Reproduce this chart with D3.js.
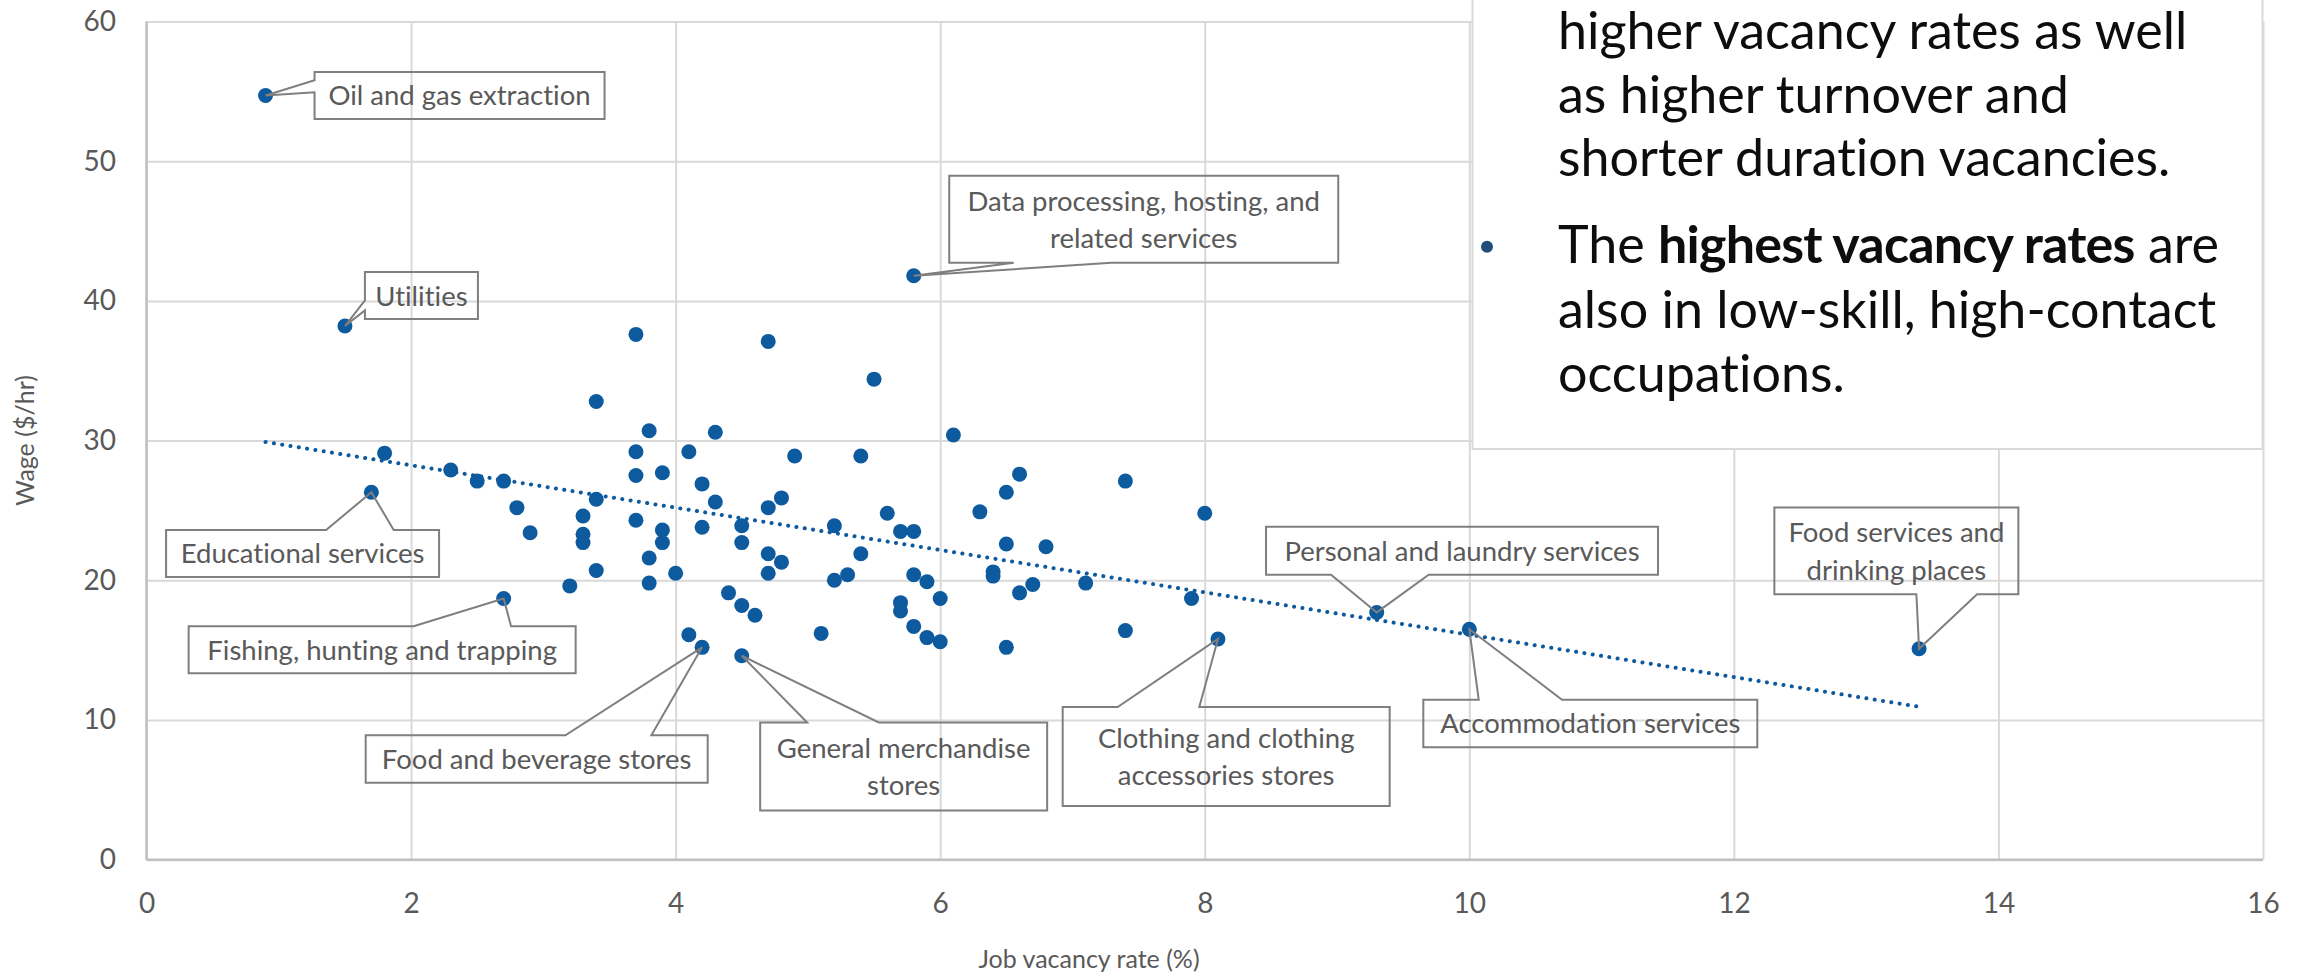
<!DOCTYPE html>
<html>
<head>
<meta charset="utf-8">
<script src="https://cdn.jsdelivr.net/npm/d3@7"></script>
<style>
  body { margin: 0; background: #fff; }
  svg { display: block; font-family: Lato, "Open Sans", sans-serif; font-variant-ligatures: none; }
</style>
</head>
<body>
<div id="chart"></div>
<script>
// Canvas size
const width = 2300;
const height = 974;

// Industries: job vacancy rate (%) and average wage ($/hr)
const vacancyRate = [
  0.9, 1.5, 5.8, 3.7, 4.7, 5.5, 3.4, 3.8, 4.3, 6.1,
  1.8, 1.7, 2.3, 2.5, 2.7, 2.8, 2.9, 3.3, 3.3, 3.3,
  3.4, 3.4, 3.2, 2.7, 3.7, 4.1, 4.9, 5.4, 3.7, 3.9,
  6.6, 4.2, 6.5, 4.3, 4.8, 4.7, 6.3, 5.6, 3.7, 4.2,
  4.5, 5.2, 5.7, 5.8, 3.9, 3.9, 4.5, 6.5, 6.8, 5.4,
  4.7, 4.8, 3.8, 4.0, 4.7, 3.8, 5.2, 5.3, 5.8, 5.9,
  6.4, 6.4, 6.7, 6.6, 6.0, 7.1, 4.4, 4.5, 4.6, 5.7,
  5.7, 5.8, 5.9, 6.0, 5.1, 6.5, 4.1, 4.2, 4.5, 7.4,
  8.0, 7.9, 7.4, 8.1, 9.3, 10.0, 13.4
];
const wage = [
  54.7, 38.2, 41.8, 37.6, 37.1, 34.4, 32.8, 30.7, 30.6, 30.4,
  29.1, 26.3, 27.9, 27.1, 27.1, 25.2, 23.4, 24.6, 23.3, 22.7,
  25.8, 20.7, 19.6, 18.7, 29.2, 29.2, 28.9, 28.9, 27.5, 27.7,
  27.6, 26.9, 26.3, 25.6, 25.9, 25.2, 24.9, 24.8, 24.3, 23.8,
  23.9, 23.9, 23.5, 23.5, 23.6, 22.7, 22.7, 22.6, 22.4, 21.9,
  21.9, 21.3, 21.6, 20.5, 20.5, 19.8, 20.0, 20.4, 20.4, 19.9,
  20.6, 20.3, 19.7, 19.1, 18.7, 19.8, 19.1, 18.2, 17.5, 18.4,
  17.8, 16.7, 15.9, 15.6, 16.2, 15.2, 16.1, 15.2, 14.6, 27.1,
  24.8, 18.7, 16.4, 15.8, 17.7, 16.5, 15.1
];

// Labelled industries (point they refer to)
const labelNames = [
  ["Oil and gas extraction"],
  ["Utilities"],
  ["Data processing, hosting, and", "related services"],
  ["Educational services"],
  ["Fishing, hunting and trapping"],
  ["Food and beverage stores"],
  ["General merchandise", "stores"],
  ["Clothing and clothing", "accessories stores"],
  ["Personal and laundry services"],
  ["Accommodation services"],
  ["Food services and", "drinking places"]
];
const labelRate = [0.9, 1.5, 5.8, 1.7, 2.7, 4.2, 4.5, 8.1, 9.3, 10.0, 13.4];
const labelWage = [54.7, 38.2, 41.8, 26.3, 18.7, 15.2, 14.6, 15.8, 17.7, 16.5, 15.1];

// Linear trend line end points
const trendRate = [0.9, 13.4];
const trendWage = [29.9, 10.95];

// Axis ticks
const xTicks = [0, 2, 4, 6, 8, 10, 12, 14, 16];
const yTicks = [0, 10, 20, 30, 40, 50, 60];

// Callout layout: box offset from point [dx, dy, w, h], wedge side and base offsets
const callouts = [
  [49, -23.6, 290, 47, "left", 8.3, 20.3],
  [20, -54, 113, 47, "left", 28.3, 38.3],
  [35.5, -100, 389, 87, "bottom", 64.5, 162],
  [-205.3, 37.7, 273, 47, "top", 160, 227.6],
  [-315, 27.7, 387, 47, "top", 225, 322.4],
  [-336.4, 88, 342, 47.5, "top", 199.7, 285.7],
  [18.4, 66.7, 287, 88, "top", 47, 118.6],
  [-155.3, 68, 327, 99, "top", 55, 136.6],
  [-110.7, -85.7, 392, 48, "bottom", 65, 162.7],
  [-46, 70.6, 334, 47.4, "top", 55.4, 138.7],
  [-144.7, -141.3, 244, 86.7, "bottom", 142, 202.7]
];

const blue = "#0d5a9e";
const grey = "#595959";

const svg = d3.select("#chart")
  .append("svg")
  .attr("width", width)
  .attr("height", height)
  .attr("viewBox", [0, 0, width, height]);

// Scales
const x = d3.scaleLinear().domain([0, 16]).range([146.5, 2263]);
const y = d3.scaleLinear().domain([0, 60]).range([859.7, 21.5]);
const plotW = x.range()[1] - x.range()[0];
const plotH = y.range()[0] - y.range()[1];

// Gridlines + tick labels through d3 axes
const xAxis = svg.append("g")
  .attr("transform", `translate(0,${y(0)})`)
  .call(d3.axisBottom(x).tickValues(xTicks).tickSize(-plotH).tickPadding(33));
const yAxis = svg.append("g")
  .attr("transform", `translate(${x(0)},0)`)
  .call(d3.axisLeft(y).tickValues(yTicks).tickSize(-plotW).tickPadding(30.5));

[xAxis, yAxis].forEach(g => {
  g.select(".domain").remove();
  g.selectAll(".tick line").attr("stroke", "#d9d9d9").attr("stroke-width", 2);
  g.selectAll(".tick text")
    .attr("fill", grey)
    .style("font-size", "28px")
    .style("font-family", "Lato, sans-serif");
});

// Axis lines
svg.append("line")
  .attr("x1", x(0)).attr("x2", x(16)).attr("y1", y(0)).attr("y2", y(0))
  .attr("stroke", "#bfbfbf").attr("stroke-width", 2.5);
svg.append("line")
  .attr("x1", x(0)).attr("x2", x(0)).attr("y1", y(0)).attr("y2", y(60))
  .attr("stroke", "#bfbfbf").attr("stroke-width", 2.5);

// Axis titles
svg.append("text")
  .attr("transform", `translate(34,${(y(0) + y(60)) / 2}) rotate(-90)`)
  .attr("text-anchor", "middle")
  .attr("fill", grey)
  .style("font-size", "25px")
  .text("Wage ($/hr)");
svg.append("text")
  .attr("x", 1089)
  .attr("y", 968)
  .attr("text-anchor", "middle")
  .attr("fill", grey)
  .style("font-size", "25px")
  .text("Job vacancy rate (%)");

// Slide text box overlapping the chart
const box = svg.append("g");
box.append("rect")
  .attr("x", 1472.5).attr("y", -20)
  .attr("width", 790).attr("height", 469)
  .attr("fill", "#fff")
  .attr("stroke", "#d9d9d9")
  .attr("stroke-width", 2);

const boxText = box.append("g")
  .attr("fill", "#0d0d0d")
  .style("font-size", "52px");
const plainLines = [
  ["higher vacancy rates as well", 49],
  ["as higher turnover and", 113],
  ["shorter duration vacancies.", 176],
  ["also in low-skill, high-contact", 328],
  ["occupations.", 392]
];
plainLines.forEach(([t, yy]) => {
  boxText.append("text").attr("x", 1558).attr("y", yy).text(t);
});
const bulletLine = boxText.append("text").attr("x", 1558).attr("y", 263);
bulletLine.append("tspan").text("The ");
bulletLine.append("tspan")
  .attr("font-weight", "bold")
  .attr("letter-spacing", "-0.8")
  .text("highest vacancy rates");
bulletLine.append("tspan").text(" are");
box.append("circle")
  .attr("cx", 1487).attr("cy", 246.7).attr("r", 6)
  .attr("fill", "#1f4e79");

// Trend line (dotted)
svg.append("line")
  .attr("x1", x(trendRate[0])).attr("y1", y(trendWage[0]))
  .attr("x2", x(trendRate[1])).attr("y2", y(trendWage[1]))
  .attr("stroke", blue)
  .attr("stroke-width", 4)
  .attr("stroke-linecap", "round")
  .attr("stroke-dasharray", "0.1 8.3");

// Points
svg.append("g")
  .selectAll("circle")
  .data(d3.range(vacancyRate.length))
  .join("circle")
  .attr("cx", i => x(vacancyRate[i]))
  .attr("cy", i => y(wage[i]))
  .attr("r", 7.5)
  .attr("fill", blue);

// Callout outline with a wedge pointing to the point
function calloutPath(bx, by, w, h, side, a, b, tx, ty) {
  const p = d3.path();
  p.moveTo(bx, by);
  if (side === "top") { p.lineTo(bx + a, by); p.lineTo(tx, ty); p.lineTo(bx + b, by); }
  p.lineTo(bx + w, by);
  if (side === "right") { p.lineTo(bx + w, by + a); p.lineTo(tx, ty); p.lineTo(bx + w, by + b); }
  p.lineTo(bx + w, by + h);
  if (side === "bottom") { p.lineTo(bx + b, by + h); p.lineTo(tx, ty); p.lineTo(bx + a, by + h); }
  p.lineTo(bx, by + h);
  if (side === "left") { p.lineTo(bx, by + b); p.lineTo(tx, ty); p.lineTo(bx, by + a); }
  p.closePath();
  return p.toString();
}

const labels = svg.append("g");
labelNames.forEach((lines, i) => {
  const tx = x(labelRate[i]);
  const ty = y(labelWage[i]);
  const [dx, dy, w, h, side, a, b] = callouts[i];
  const bx = tx + dx;
  const by = ty + dy;
  labels.append("path")
    .attr("d", calloutPath(bx, by, w, h, side, a, b, tx, ty))
    .attr("fill", "none")
    .attr("stroke", "#7f7f7f")
    .attr("stroke-width", 2)
    .attr("stroke-linejoin", "miter");
  const cy = by + h / 2;
  const lineH = 37.5;
  lines.forEach((t, k) => {
    labels.append("text")
      .attr("x", bx + w / 2)
      .attr("y", cy - (lines.length - 1) * lineH / 2 + k * lineH + 10)
      .attr("text-anchor", "middle")
      .attr("fill", grey)
      .style("font-size", "27.5px")
      .text(t);
  });
});
</script>
</body>
</html>
